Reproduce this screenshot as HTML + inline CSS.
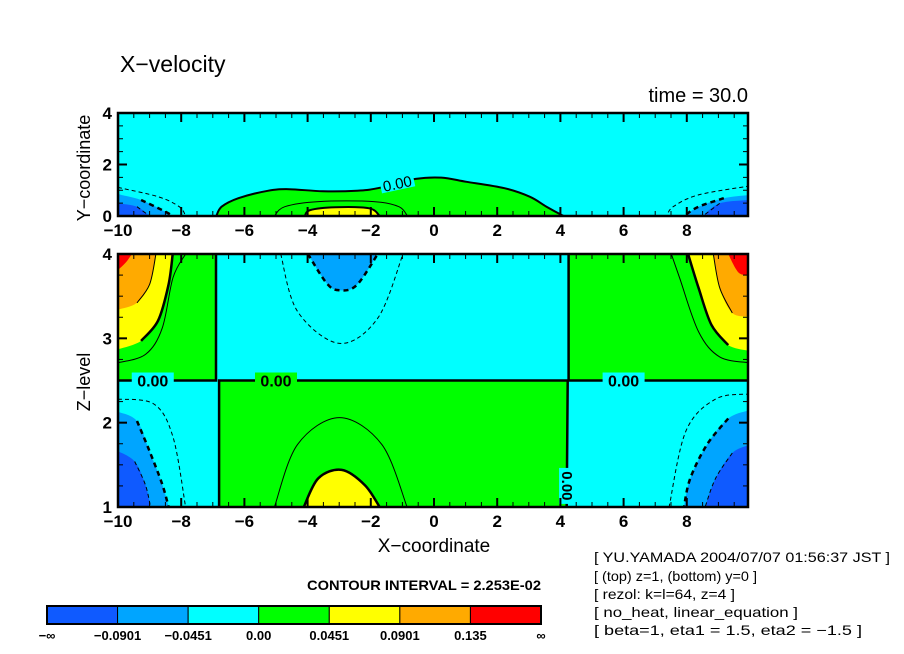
<!DOCTYPE html>
<html><head><meta charset="utf-8">
<style>
html,body{margin:0;padding:0;background:#fff;}
svg{display:block;font-family:"Liberation Sans","DejaVu Sans",sans-serif;}
</style></head>
<body>
<svg id="chart" width="904" height="654" viewBox="0 0 904 654" xmlns="http://www.w3.org/2000/svg">
<defs>
<clipPath id="clipTop"><rect x="118" y="113" width="630" height="103"/></clipPath>
<clipPath id="clipBot"><rect x="118" y="254" width="630" height="253"/></clipPath>
</defs>
<text x="120" y="72" font-size="23">X−velocity</text>
<text x="748" y="102" font-size="20" text-anchor="end">time = 30.0</text>
<g id="topPanel"></g>
<g id="botPanel"></g>
<text transform="translate(90,168) rotate(-90)" font-size="18" text-anchor="middle">Y−coordinate</text>
<text transform="translate(90,382) rotate(-90)" font-size="18" text-anchor="middle">Z−level</text>
<text x="434" y="552" font-size="19" text-anchor="middle">X−coordinate</text>
<text x="307" y="590" font-size="14" font-weight="bold" textLength="234" lengthAdjust="spacingAndGlyphs">CONTOUR INTERVAL = 2.253E-02</text>
<g font-size="14">
<text x="594" y="562" textLength="296" lengthAdjust="spacingAndGlyphs">[ YU.YAMADA 2004/07/07 01:56:37 JST ]</text>
<text x="594" y="581" textLength="163" lengthAdjust="spacingAndGlyphs">[ (top) z=1, (bottom) y=0 ]</text>
<text x="594" y="599" textLength="141" lengthAdjust="spacingAndGlyphs">[ rezol: k=l=64, z=4 ]</text>
<text x="594" y="617" textLength="204" lengthAdjust="spacingAndGlyphs">[ no_heat, linear_equation ]</text>
<text x="594" y="635" textLength="268" lengthAdjust="spacingAndGlyphs">[ beta=1, eta1 = 1.5, eta2 = −1.5 ]</text>
</g>
<g id="cbar"></g>
</svg>
<script>
const NS='http://www.w3.org/2000/svg';
const colorLevels=['#0f5aff','#00a5ff','#00ffff','#00ff00','#ffff00','#ffaa00','#ff0000'];
const colorbarLabels=['−∞','−0.0901','−0.0451','0.00','0.0451','0.0901','0.135','∞'];
const xTicks=[-10,-8,-6,-4,-2,0,2,4,6,8];
const yTicksTop=[0,2,4];
const zTicksBot=[1,2,3,4];

const topGreen=[[-6.89,0],[-6.72,0.36],[-6.19,0.69],[-5.26,0.98],[-4.59,1.04],[-3.52,0.96],[-2.45,0.98],[-1.78,1.08],[-0.58,1.44],[0.23,1.49],[1.03,1.33],[2.23,1.08],[3.03,0.75],[3.56,0.36],[4.1,0]];
const topYellow=[[-4.09,0],[-3.92,0.23],[-3.12,0.34],[-2.05,0.3],[-1.72,0]];
const topThin=[[-5.05,0],[-4.72,0.36],[-3.65,0.56],[-1.91,0.56],[-1.11,0.36],[-0.84,0]];
const topLBlueL=[[-10,0],[-10,0.85],[-9.27,0.62],[-8.6,0.23],[-8.26,0]];
const topDBlueL=[[-10,0],[-10,0.49],[-9.4,0.36],[-9.0,0]];
const topDashL=[[-10,1.11],[-8.73,0.75],[-8.06,0.36],[-7.86,0]];
const topLBlueR=[[10,0],[10,0.82],[9.17,0.69],[8.37,0.36],[7.91,0]];
const topDBlueR=[[10,0],[10,0.62],[9.04,0.49],[8.51,0]];
const topDashR=[[10,1.17],[8.37,0.82],[7.57,0.36],[7.37,0]];

const botGreenUL=[[-10,2.5],[-10,4],[-6.9,4],[-6.9,2.5]];
const botGreenUR=[[4.26,2.5],[4.26,4],[10,4],[10,2.5]];
const botGreenMid=[[-6.8,1],[-6.8,2.5],[4.23,2.5],[4.2,1]];
const botYellowUL=[[-10,4],[-10,2.87],[-9.27,2.97],[-8.73,3.21],[-8.4,3.64],[-8.27,4]];
const botOrangeUL=[[-10,4],[-10,3.34],[-9.4,3.42],[-9.0,3.64],[-8.8,4]];
const botRedUL=[[-10,4],[-10,3.81],[-9.75,3.9],[-9.56,4]];
const botYellowUR=[[10,4],[10,2.85],[9.31,2.92],[8.78,3.16],[8.37,3.6],[8.04,4]];
const botOrangeUR=[[10,4],[10,3.26],[9.44,3.3],[9.04,3.6],[8.84,4]];
const botRedUR=[[10,4],[10,3.75],[9.64,3.78],[9.31,4]];
const botLBlueLL=[[-10,1],[-10,2.13],[-9.4,2.02],[-9.0,1.66],[-8.6,1.27],[-8.4,1]];
const botDBlueLL=[[-10,1],[-10,1.66],[-9.47,1.54],[-9.13,1.26],[-8.97,1]];
const botLBlueLR=[[10,1],[10,2.15],[9.31,2.05],[8.64,1.74],[8.11,1.34],[7.91,1]];
const botDBlueLR=[[10,1],[10,1.74],[9.44,1.64],[8.91,1.34],[8.58,1]];
const botBlueMid=[[-3.99,4],[-3.39,3.65],[-2.99,3.57],[-2.45,3.63],[-1.78,4]];
const botYellowMid=[[-4.12,1],[-3.66,1.34],[-2.92,1.44],[-2.19,1.26],[-1.72,1]];
const botDashMid=[[-4.85,4],[-4.32,3.32],[-2.99,2.94],[-1.78,3.24],[-0.98,4]];
const botThinMid=[[-5.05,1],[-4.32,1.74],[-2.99,2.06],[-1.65,1.74],[-0.85,1]];
const botThinUL=[[-10,2.71],[-9.13,2.81],[-8.6,3.12],[-8.26,3.72],[-7.86,4]];
const botThinUR=[[10,2.71],[9.04,2.78],[8.37,3.08],[7.77,3.72],[7.51,4]];
const botDashLL=[[-10,2.28],[-8.86,2.22],[-8.26,1.83],[-7.86,1]];
const botDashLR=[[10,2.34],[8.91,2.28],[7.97,1.9],[7.44,1]];

const sx=x=>118+(x+10)*31.6;
const syT=y=>216-y*25.75;
const szB=z=>507-(z-1)*84.33;

function mk(tag,attrs,parent){const e=document.createElementNS(NS,tag);for(const k in attrs)e.setAttribute(k,attrs[k]);parent.appendChild(e);return e;}
function isEdge(p){return Math.abs(p[0])>=9.99;}
function pathD(pts,sy,closed,straight){
  const P=pts.map(p=>[sx(p[0]),sy(p[1])]);
  let d='M'+P[0][0].toFixed(1)+','+P[0][1].toFixed(1);
  for(let i=0;i<P.length-1;i++){
    const a=P[i],b=P[i+1];
    if(straight||isEdge(pts[i])&&isEdge(pts[i+1])){d+='L'+b[0].toFixed(1)+','+b[1].toFixed(1);continue;}
    const p0=(i>0&&!isEdge(pts[i-1])||i>0&&!isEdge(pts[i]))?P[i-1]:a;
    const p3=(i+2<P.length&&!isEdge(pts[i+2]))?P[i+2]:b;
    const c1=[a[0]+(b[0]-p0[0])/6,a[1]+(b[1]-p0[1])/6];
    const c2=[b[0]-(p3[0]-a[0])/6,b[1]-(p3[1]-a[1])/6];
    d+='C'+c1[0].toFixed(1)+','+c1[1].toFixed(1)+' '+c2[0].toFixed(1)+','+c2[1].toFixed(1)+' '+b[0].toFixed(1)+','+b[1].toFixed(1);
  }
  return d+(closed?'Z':'');
}
function area(g,pts,sy,fill,name,straight){const e=mk('path',{d:pathD(pts,sy,true,straight),fill:fill},g);return e;}
function line(g,pts,sy,w,dash,name,straight){const a={d:pathD(pts,sy,false,straight),fill:'none',stroke:'#000','stroke-width':w};if(dash)a['stroke-dasharray']=dash;const e=mk('path',a,g);return e;}
function edgeLine(pts){return pts.filter(p=>Math.abs(p[0])<9.99);}

const topG=document.getElementById('topPanel');
const tg=mk('g',{'clip-path':'url(#clipTop)'},topG);
mk('rect',{x:118,y:113,width:630,height:103,fill:colorLevels[2]},tg);
area(tg,topGreen,syT,colorLevels[3],'top-green-region');
area(tg,topYellow,syT,colorLevels[4],'top-yellow-region');
area(tg,topLBlueL,syT,colorLevels[1],'top-lightblue-left');
area(tg,topDBlueL,syT,colorLevels[0],'top-darkblue-left');
area(tg,topLBlueR,syT,colorLevels[1],'top-lightblue-right');
area(tg,topDBlueR,syT,colorLevels[0],'top-darkblue-right');
line(tg,topGreen,syT,2,null,'top-zero-contour');
line(tg,topYellow,syT,2,null,'top-yellow-contour');
line(tg,topThin,syT,1,null,'top-thin-contour');
line(tg,edgeLine(topLBlueL),syT,2.5,'5,4','top-lightblue-contour-left');
line(tg,edgeLine(topDBlueL),syT,1,'4,3','top-darkblue-contour-left');
line(tg,topDashL,syT,1,'4,3','top-dash-contour-left');
line(tg,edgeLine(topLBlueR),syT,2.5,'5,4','top-lightblue-contour-right');
line(tg,edgeLine(topDBlueR),syT,1,'4,3','top-darkblue-contour-right');
line(tg,topDashR,syT,1,'4,3','top-dash-contour-right');
mk('rect',{x:380,y:174,width:34,height:16,fill:colorLevels[2],transform:'rotate(-12 397 182)'},tg);
const l0=mk('text',{x:397,y:189,'font-size':15,'text-anchor':'middle',transform:'rotate(-12 397 182)'},tg);
l0.textContent='0.00';



const botG=document.getElementById('botPanel');
const bg=mk('g',{'clip-path':'url(#clipBot)'},botG);
mk('rect',{x:118,y:254,width:630,height:253,fill:colorLevels[2]},bg);
area(bg,botGreenUL,szB,colorLevels[3],'green-upper-left',true);
area(bg,botGreenUR,szB,colorLevels[3],'green-upper-right',true);
area(bg,botGreenMid,szB,colorLevels[3],'green-lower-middle',true);
area(bg,botYellowUL,szB,colorLevels[4],'yellow-upper-left');
area(bg,botOrangeUL,szB,colorLevels[5],'orange-upper-left');
area(bg,botRedUL,szB,colorLevels[6],'red-upper-left');
area(bg,botYellowUR,szB,colorLevels[4],'yellow-upper-right');
area(bg,botOrangeUR,szB,colorLevels[5],'orange-upper-right');
area(bg,botRedUR,szB,colorLevels[6],'red-upper-right');
area(bg,botLBlueLL,szB,colorLevels[1],'lightblue-lower-left');
area(bg,botDBlueLL,szB,colorLevels[0],'darkblue-lower-left');
area(bg,botLBlueLR,szB,colorLevels[1],'lightblue-lower-right');
area(bg,botDBlueLR,szB,colorLevels[0],'darkblue-lower-right');
area(bg,botBlueMid,szB,colorLevels[1],'lightblue-upper-middle');
area(bg,botYellowMid,szB,colorLevels[4],'yellow-lower-middle');
line(bg,edgeLine(botYellowUL),szB,2.5,null,'contour-yellow-ul');
line(bg,edgeLine(botOrangeUL),szB,1,null,'contour-orange-ul');
line(bg,edgeLine(botYellowUR),szB,2.5,null,'contour-yellow-ur');
line(bg,edgeLine(botOrangeUR),szB,1,null,'contour-orange-ur');
line(bg,edgeLine(botLBlueLL),szB,2.5,'5,4','contour-lightblue-ll');
line(bg,edgeLine(botDBlueLL),szB,1,'4,3','contour-darkblue-ll');
line(bg,edgeLine(botLBlueLR),szB,2.5,'5,4','contour-lightblue-lr');
line(bg,edgeLine(botDBlueLR),szB,1,'4,3','contour-darkblue-lr');
line(bg,botBlueMid,szB,2.5,'5,4','contour-blue-middle');
line(bg,botYellowMid,szB,2.5,null,'contour-yellow-middle');
line(bg,botDashMid,szB,1,'4,3','contour-dash-middle');
line(bg,botThinMid,szB,1,null,'contour-thin-middle');
line(bg,botThinUL,szB,1,null,'contour-thin-ul');
line(bg,botThinUR,szB,1,null,'contour-thin-ur');
line(bg,botDashLL,szB,1,'4,3','contour-dash-ll');
line(bg,botDashLR,szB,1,'4,3','contour-dash-lr');
line(bg,[[-10,2.5],[-6.9,2.5],[-6.9,4]],szB,2.5,null,'zero-contour-left',true);
line(bg,[[-6.8,1],[-6.8,2.5],[4.23,2.5],[4.2,1]],szB,2.5,null,'zero-contour-middle',true);
line(bg,[[4.26,4],[4.26,2.5],[10,2.5]],szB,2.5,null,'zero-contour-right',true);
const zeroLabels=[[-8.9,2.5],[-5.0,2.5],[6.0,2.5]];
zeroLabels.forEach((p,i)=>{
  mk('rect',{x:sx(p[0])-21,y:szB(p[1])-8,width:42,height:16,fill:i==1?colorLevels[3]:colorLevels[2]},bg);
  const t=mk('text',{x:sx(p[0]),y:szB(p[1])+6,'font-size':16,'font-weight':'bold','text-anchor':'middle'},bg);
  t.textContent='0.00';
  
  
});
mk('rect',{x:sx(4.21)-8,y:szB(1.25)-18,width:16,height:36,fill:colorLevels[2]},bg);
const vt=mk('text',{x:sx(4.21),y:szB(1.25)+5,'font-size':15,'font-weight':'bold','text-anchor':'middle',transform:`rotate(90 ${sx(4.21)} ${szB(1.25)})`},bg);
vt.textContent='0.00';



function frame(g,y0,y1,yticks,sy,minorY){
  mk('rect',{x:118,y:y0,width:630,height:y1-y0,fill:'none',stroke:'#000','stroke-width':2.5},g);
  for(let x=-10;x<=9.9;x+=0.5){
    const maj=xTicks.includes(x);const L=maj?9:5;
    mk('line',{x1:sx(x),x2:sx(x),y1:y0,y2:y0+L,stroke:'#000','stroke-width':maj?2:1},g);
    mk('line',{x1:sx(x),x2:sx(x),y1:y1,y2:y1-L,stroke:'#000','stroke-width':maj?2:1},g);
  }
  minorY.forEach(v=>{
    const maj=yticks.includes(v);const L=maj?9:5;const y=sy(v);
    mk('line',{x1:118,x2:118+L,y1:y,y2:y,stroke:'#000','stroke-width':maj?2:1},g);
    mk('line',{x1:748,x2:748-L,y1:y,y2:y,stroke:'#000','stroke-width':maj?2:1},g);
  });
  yticks.forEach(v=>{
    const t=mk('text',{x:112,y:sy(v)+6,'font-size':17,'font-weight':'bold','text-anchor':'end'},g);
    t.textContent=v;
    
    
  });
  xTicks.forEach(v=>{
    const t=mk('text',{x:sx(v),y:y1+20,'font-size':17,'font-weight':'bold','text-anchor':'middle'},g);
    t.textContent=v<0?'−'+(-v):v;
    
    
  });
}
frame(topG,113,216,yTicksTop,syT,[0,0.5,1,1.5,2,2.5,3,3.5,4]);
frame(botG,254,507,zTicksBot,szB,[1,1.25,1.5,1.75,2,2.25,2.5,2.75,3,3.25,3.5,3.75,4]);

const cb=document.getElementById('cbar');
const cbx=47,cbw=494,cby=606,cbh=18,bw=cbw/colorLevels.length;
colorLevels.forEach((c,i)=>{
  const r=mk('rect',{x:cbx+i*bw,y:cby,width:bw,height:cbh,fill:c,stroke:'#000','stroke-width':1},cb);
  
  
});
mk('rect',{x:cbx,y:cby,width:cbw,height:cbh,fill:'none',stroke:'#000','stroke-width':2},cb);
colorbarLabels.forEach((s,i)=>{
  const t=mk('text',{x:cbx+i*bw,y:640,'font-size':13,'font-weight':'bold','text-anchor':'middle'},cb);
  t.textContent=s;
  
  
});
</script>
</body></html>
